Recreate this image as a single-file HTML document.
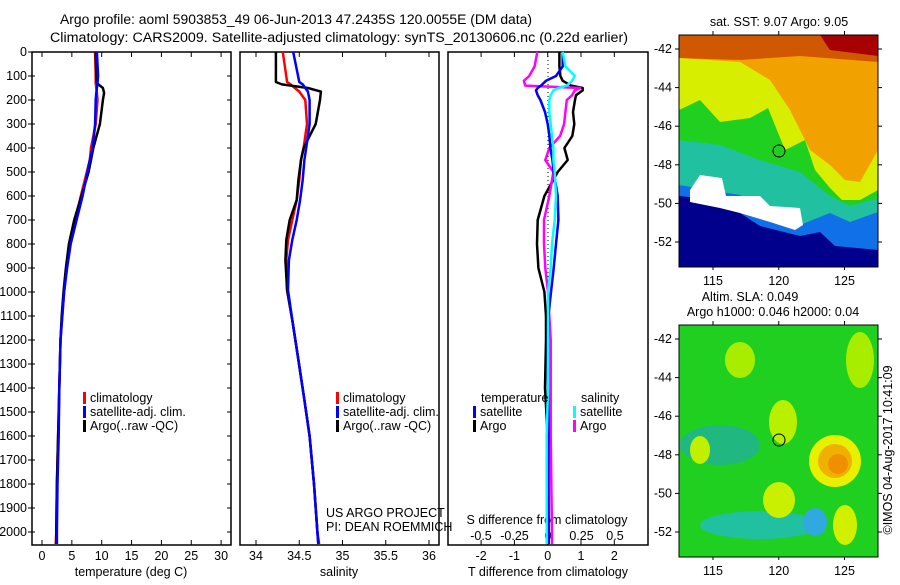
<!DOCTYPE html>
<html><head><meta charset="utf-8"><style>
body{margin:0;background:#fff}
svg text{font-family:"Liberation Sans",sans-serif;font-size:12.5px;fill:#000}
</style></head><body>
<svg id="c" width="900" height="580" viewBox="0 0 900 580" xmlns="http://www.w3.org/2000/svg">
<rect width="900" height="580" fill="#fff"/>
<text x="60" y="24" textLength="472" lengthAdjust="spacingAndGlyphs" style="font-size:13.5px">Argo profile: aoml 5903853_49 06-Jun-2013 47.2435S 120.0055E (DM data)</text>
<text x="50" y="42" textLength="578" lengthAdjust="spacingAndGlyphs" style="font-size:13.5px">Climatology: CARS2009. Satellite-adjusted climatology: synTS_20130606.nc (0.22d earlier)</text>

<g>
<clipPath id="m1"><rect x="679" y="35" width="199" height="232"/></clipPath>
<g clip-path="url(#m1)">
<rect x="679" y="35" width="199" height="232" fill="#f2a200"/>
<polygon points="679,35 878,35 878,62 800,56 740,60 679,58" fill="#d05800"/>
<polygon points="820,35 878,35 878,56 830,50" fill="#a80000"/>
<polygon points="679,58 740,62 770,80 790,110 810,150 830,165 845,180 860,182 878,150 878,220 679,220" fill="#d8ee00"/>
<polygon points="679,110 700,100 720,122 750,118 768,108 785,150 805,140 815,170 830,188 842,200 860,200 878,190 878,267 679,267" fill="#20d020"/>
<polygon points="679,140 720,145 760,160 800,172 830,196 850,206 878,198 878,267 679,267" fill="#20c0a0"/>
<polygon points="679,185 740,195 800,225 830,213 850,222 878,212 878,267 679,267" fill="#1070e8"/>
<polygon points="679,196 720,200 760,226 800,236 820,232 835,246 878,250 878,267 679,267" fill="#00008c"/>
<polygon points="690,190 700,175 722,178 726,196 760,196 770,206 800,208 803,225 795,230 770,222 740,213 720,208 690,202" fill="#fff"/>
</g>
<rect x="679" y="35" width="199" height="232" fill="none" stroke="#000"/>
<circle cx="779" cy="151" r="6" fill="none" stroke="#000"/>
<text x="779" y="26" text-anchor="middle">sat. SST: 9.07 Argo: 9.05</text>
</g>
<g>
<clipPath id="m2"><rect x="679" y="325" width="199" height="232"/></clipPath>
<g clip-path="url(#m2)">
<rect x="679" y="325" width="199" height="232" fill="#20d020"/>
<ellipse cx="720" cy="445" rx="40" ry="20" fill="#20b880"/>
<ellipse cx="760" cy="525" rx="60" ry="14" fill="#20c0a0"/>
<ellipse cx="815" cy="522" rx="12" ry="14" fill="#30a8e0"/>
<ellipse cx="740" cy="360" rx="15" ry="18" fill="#a8ec00"/>
<ellipse cx="700" cy="450" rx="10" ry="14" fill="#c0f000"/>
<ellipse cx="783" cy="422" rx="14" ry="22" fill="#b8f000"/>
<ellipse cx="779" cy="500" rx="16" ry="18" fill="#c8f000"/>
<ellipse cx="860" cy="360" rx="14" ry="28" fill="#a8ec00"/>
<ellipse cx="845" cy="525" rx="12" ry="20" fill="#d0f000"/>
<circle cx="835" cy="461" r="26" fill="#e8f000"/>
<circle cx="835" cy="461" r="17" fill="#f0b000"/>
<circle cx="838" cy="464" r="10" fill="#f09000"/>
</g>
<rect x="679" y="325" width="199" height="232" fill="none" stroke="#000"/>
<circle cx="779" cy="440" r="6" fill="none" stroke="#000"/>
<text x="750" y="301" text-anchor="middle">Altim. SLA: 0.049</text>
<text x="773" y="316" text-anchor="middle">Argo h1000: 0.046 h2000: 0.04</text>
</g>
<text transform="translate(892,450) rotate(-90)" text-anchor="middle">©IMOS 04-Aug-2017 10:41:09</text>
<g id="g"></g>
</svg>
<script>
// ---- data ----
const depthsT=[0,100,130,150,170,200,300,400,450,500,600,700,800,900,1000,1100,1200,1400,1600,1800,2000,2050];
const tempArgo=[9.0,9.1,9.2,10.2,10.4,10.2,9.7,8.6,8.2,7.8,6.6,5.4,4.5,4.0,3.6,3.3,3.1,2.9,2.7,2.5,2.4,2.4];
const tempClim=[8.9,9.0,9.0,9.1,9.2,9.3,9.0,8.2,8.0,7.5,6.5,5.6,4.7,4.1,3.7,3.4,3.1,2.9,2.7,2.5,2.4,2.3];
const tempSat=[9.2,9.4,9.3,9.2,9.1,9.0,8.9,8.5,8.0,7.6,6.8,5.8,4.8,4.2,3.7,3.4,3.1,2.9,2.8,2.6,2.5,2.5];
const depthsS=[0,125,135,150,165,200,300,350,400,450,533,617,700,783,867,992,1117,1283,1450,1600,1800,2000,2050];
const salArgo=[34.23,34.23,34.30,34.60,34.75,34.74,34.69,34.62,34.55,34.52,34.49,34.47,34.39,34.35,34.34,34.36,34.42,34.49,34.56,34.62,34.67,34.71,34.72];
const salClim=[34.31,34.36,34.40,34.45,34.50,34.57,34.59,34.57,34.55,34.52,34.50,34.47,34.42,34.37,34.35,34.36,34.42,34.49,34.56,34.62,34.67,34.71,34.73];
const salSat=[34.43,34.50,34.54,34.57,34.60,34.62,34.62,34.60,34.58,34.56,34.54,34.51,34.47,34.42,34.38,34.37,34.42,34.49,34.56,34.62,34.67,34.71,34.72];
const depthsD=[0,60,100,120,140,150,160,180,200,250,300,350,400,450,500,600,700,800,900,1000,1100,1200,1400,1600,2000,2050];
const dTArgo=[0.35,0.35,0.38,0.45,0.70,1.05,1.05,0.85,0.82,0.76,0.80,0.74,0.50,0.60,0.30,-0.10,-0.30,-0.32,-0.28,-0.10,-0.05,-0.05,-0.08,0,0.02,0.02];
const dTSat=[0.45,0.45,0.25,-0.05,-0.20,-0.30,-0.35,-0.30,-0.22,-0.08,0.00,0.05,0.08,0.14,0.18,0.30,0.32,0.25,0.18,0.10,0.02,0.01,0.01,0.02,0.03,0.03];
const dSSat=[0.11,0.13,0.20,0.18,0.14,0.08,0.04,0.02,0.01,0.01,0.02,0.03,0.04,0.04,0.05,0.06,0.05,0.03,0.02,0.00,0.00,0.00,0.00,-0.01,-0.01,-0.01];
const dSArgo=[-0.08,-0.10,-0.14,-0.18,-0.17,0.24,0.20,0.18,0.14,0.13,0.12,0.09,0.01,-0.02,0.04,0.01,-0.03,-0.03,-0.02,0.00,0.01,0.02,0.02,0.02,0.03,0.03];
const depthTicks=[0,100,200,300,400,500,600,700,800,900,1000,1100,1200,1300,1400,1500,1600,1700,1800,1900,2000];
const tempTicks=[0,5,10,15,20,25,30];
const salTicks=[34,34.5,35,35.5,36];
const dTTicks=[-2,-1,0,1,2];
const dSTicks=[-0.5,-0.25,0,0.25,0.5];
// ---- axes ----
const PTOP=52,PBOT=545;
const yD=d=>52+d*0.24;
const xT=v=>42+v*5.97;
const xS=v=>256+(v-34)*86.5;
const xdT=v=>547.7+v*33.3;
const xdS=v=>548+v*134;
const g=document.getElementById('g');
const NS='http://www.w3.org/2000/svg';
function mk(tag,attrs,parent){const e=document.createElementNS(NS,tag);for(const k in attrs)e.setAttribute(k,attrs[k]);(parent||g).appendChild(e);return e;}
function txt(x,y,s,anchor){const t=mk('text',{x:x,y:y,'text-anchor':anchor||'start'});t.textContent=s;return t;}
const panels=[[32,231],[240,439],[448,648]];
panels.forEach((p,i)=>{
  const r=mk('rect',{x:p[0],y:PTOP,width:p[1]-p[0],height:PBOT-PTOP,fill:'none',stroke:'#000','stroke-width':1.5});
  
  
});
depthTicks.forEach(d=>{
  const y=yD(d);
  mk('line',{x1:28,x2:35,y1:y,y2:y,stroke:'#000'});
  mk('line',{x1:227,x2:231,y1:y,y2:y,stroke:'#000'});
  const t=txt(27,y+4,String(d),'end');
  
  
});
function xticks(ticks,fx,ly){ticks.forEach(v=>{const x=fx(v);
  mk('line',{x1:x,x2:x,y1:PBOT,y2:PBOT-5,stroke:'#000'});mk('line',{x1:x,x2:x,y1:PTOP,y2:PTOP+5,stroke:'#000'});
  const t=txt(x,ly,String(v),'middle');
  
  });}
xticks(tempTicks,xT,560);
xticks(salTicks,xS,560);
xticks(dTTicks,xdT,560);
dSTicks.forEach(v=>{const t=txt(xdS(v),540,String(v),'middle');
  
  });
[[131,'temperature (deg C)','temperature-axis-title'],[339,'salinity','salinity-axis-title'],[548,'T difference from climatology','t-diff-axis-title']].forEach(a=>{
  const t=txt(a[0],576,a[1],'middle');
  
  });
const st=txt(547,524,'S difference from climatology','middle');


mk('line',{x1:548,x2:548,y1:PTOP,y2:PBOT,stroke:'#000','stroke-dasharray':'1,3'});
function line(depths,vals,fx,color,name){
  const pts=depths.map((d,i)=>fx(vals[i]).toFixed(1)+','+yD(d).toFixed(1)).join(' ');
  const l=mk('polyline',{points:pts,fill:'none',stroke:color,'stroke-width':2.5,'stroke-linejoin':'round'});
  
  
}
line(depthsT,tempClim,xT,'#f00','temp-climatology-line');
line(depthsT,tempArgo,xT,'#000','temp-argo-line');
line(depthsT,tempSat,xT,'#00f','temp-satellite-line');
line(depthsS,salClim,xS,'#f00','sal-climatology-line');
line(depthsS,salArgo,xS,'#000','sal-argo-line');
line(depthsS,salSat,xS,'#00f','sal-satellite-line');
line(depthsD,dTArgo,xdT,'#000','tdiff-argo-line');
line(depthsD,dSArgo,xdS,'#f0f','sdiff-argo-line');
line(depthsD,dTSat,xdT,'#00f','tdiff-satellite-line');
line(depthsD,dSSat,xdS,'#0ff','sdiff-satellite-line');
function leg(x,y,color,label){
  mk('rect',{x:x,y:y-10,width:3,height:12,fill:color});
  const t=txt(x+7,y,label);
  
  
}
[83,336].forEach(x=>{
  leg(x,402,'#f00','climatology');leg(x,416,'#00f','satellite-adj. clim.');leg(x,430,'#000','Argo(..raw -QC)');});
const h1=txt(481,402,'temperature');


const h2=txt(581,402,'salinity');


leg(473,416,'#00f','satellite');leg(473,430,'#000','Argo');
leg(573,416,'#0ff','satellite');leg(573,430,'#f0f','Argo');
const p1=txt(326,517,'US ARGO PROJECT');


const p2=txt(326,531,'PI: DEAN ROEMMICH');


function mapAxes(y0,y1,latTop){
  [115,120,125].forEach(l=>{const x=713+(l-115)*13.15;
    mk('line',{x1:x,x2:x,y1:y0,y2:y0-4,stroke:'#000'});mk('line',{x1:x,x2:x,y1:y1,y2:y1+3,stroke:'#000'});
    const t=txt(x,y1+18,String(l),'middle');
    
    });
  [-42,-44,-46,-48,-50,-52].forEach(l=>{const y=latTop+(-42-l)*19.3;
    mk('line',{x1:675,x2:679,y1:y,y2:y,stroke:'#000'});mk('line',{x1:878,x2:882,y1:y,y2:y,stroke:'#000'});
    const t=txt(672,y+4,String(l),'end');
    
    });
}
mapAxes(35,267,49);
mapAxes(325,557,339);
</script>
</body></html>
